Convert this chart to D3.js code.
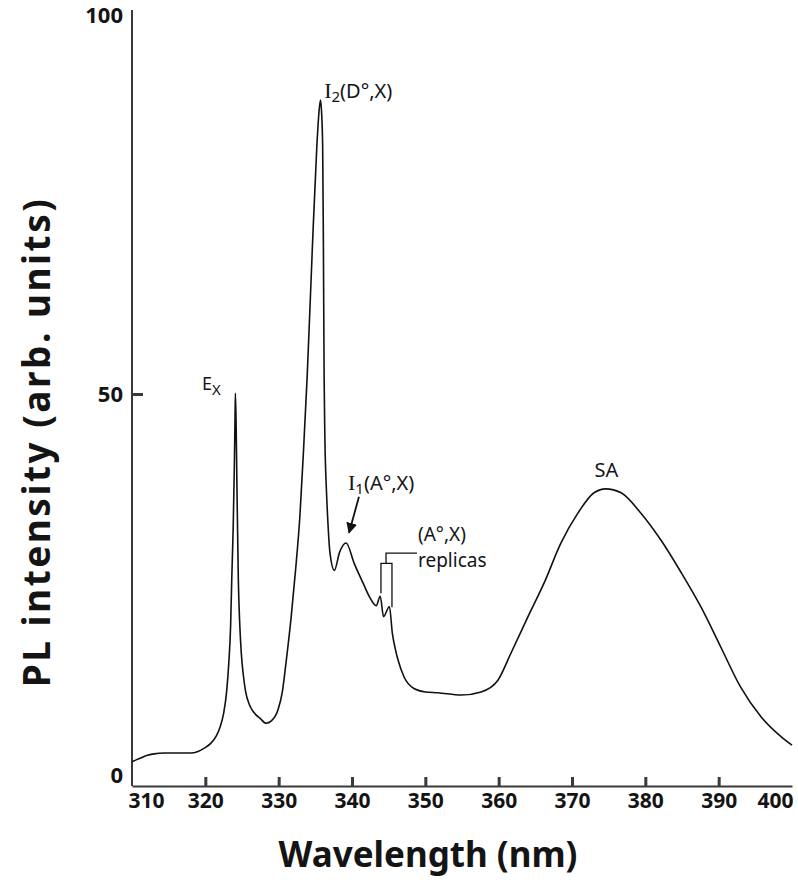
<!DOCTYPE html>
<html>
<head>
<meta charset="utf-8">
<script src="https://cdn.jsdelivr.net/npm/d3@7"></script>
<style>
  html, body { margin: 0; padding: 0; background: #fff; }
  svg { display: block; }
  text { font-family: "Noto Sans", "Open Sans", sans-serif; fill: #141414; }
</style>
</head>
<body>
<svg id="chart" width="798" height="891"></svg>
<script>
// ---- Data ----
const wavelength = [
  310.0, 311.0, 312.0, 313.0, 314.4, 316.0, 318.0, 319.0, 319.8, 320.7,
  321.5, 322.0, 322.5, 322.9, 323.2, 323.45, 323.6, 323.8, 323.95, 324.05,
  324.1, 324.2, 324.3, 324.5, 324.7, 324.9, 325.2, 325.5, 326.0, 326.6,
  327.5, 328.3, 329.0, 329.9, 330.5, 331.0, 331.7, 332.3, 332.9, 333.4,
  333.9, 334.6, 335.2, 335.5, 335.7, 335.85, 336.0, 336.1, 336.2, 336.3,
  336.5, 336.7, 337.0, 337.6, 338.3, 339.2, 340.3, 341.5, 342.4, 343.3,
  343.85, 344.3, 345.1, 345.5, 345.9, 346.3, 347.1, 348.5, 350.0, 351.7,
  354.9, 357.6, 359.9, 361.7, 364.0, 366.2, 368.5, 370.8, 373.0, 374.6,
  376.7, 379.4, 382.1, 384.9, 387.6, 390.3, 393.0, 395.8, 398.5, 400.0
];
const intensity = [
  3.1, 3.5, 3.9, 4.1, 4.2, 4.2, 4.2, 4.4, 4.8, 5.4,
  6.4, 7.5, 9.3, 12.0, 15.7, 20.5, 26.3, 33.0, 40.5, 47.0,
  50.1, 46.0, 39.0, 26.3, 20.5, 17.0, 14.0, 12.0, 10.4, 9.4,
  8.6, 8.0, 8.3, 9.7, 12.0, 15.7, 21.5, 27.5, 34.5, 43.0,
  52.5, 68.8, 81.5, 86.0, 87.5, 86.0, 81.5, 68.8, 52.0, 44.5,
  38.0, 33.9, 29.7, 27.5, 29.8, 31.0, 28.4, 25.9, 24.1, 23.0,
  24.2, 21.6, 22.9, 19.5, 17.5, 16.0, 13.9, 12.4, 12.0, 11.9,
  11.6, 12.0, 13.5, 17.0, 21.6, 25.9, 31.0, 34.8, 37.4, 37.9,
  37.4, 34.8, 31.4, 27.2, 22.8, 17.7, 12.6, 8.8, 6.3, 5.2
];
const xTicks = [310, 320, 330, 340, 350, 360, 370, 380, 390, 400];
const yTicks = [0, 50, 100];

// ---- Scales ----
const svg = d3.select("#chart");
const x = d3.scaleLinear().domain([310, 400]).range([132, 792]);
const y = d3.scaleLinear().domain([0, 100]).range([786, 2]);

const points = wavelength.map((w, i) => [w, intensity[i]]);

// ---- Axes ----
const axisColor = "#3a3a3a";

const xAxis = svg.append("g")
  .attr("transform", `translate(0,${y(0)})`)
  .call(d3.axisBottom(x).tickValues(xTicks).tickSizeInner(-9).tickSizeOuter(0).tickPadding(7));
xAxis.select(".domain").attr("stroke", axisColor).attr("stroke-width", 2);
xAxis.selectAll(".tick line").attr("stroke", axisColor).attr("stroke-width", 3)
  .attr("display", d => (d === 310 || d === 400) ? "none" : null);
xAxis.selectAll(".tick text")
  .attr("font-size", 21).attr("font-weight", "bold").attr("fill", "#141414")
  .attr("font-family", "'Noto Sans', sans-serif")
  .attr("dx", d => d === 310 ? 14 : (d === 400 ? -17 : 0));

const yAxis = svg.append("g")
  .attr("transform", `translate(${x(310)},0)`)
  .call(d3.axisLeft(y).tickValues(yTicks).tickSizeInner(-11).tickSizeOuter(0).tickPadding(9));
yAxis.select(".domain").attr("d", `M0,${y(0)}V10`).attr("stroke", axisColor).attr("stroke-width", 2);
yAxis.selectAll(".tick line").attr("stroke", axisColor).attr("stroke-width", 3)
  .attr("display", d => d === 50 ? null : "none");
yAxis.selectAll(".tick text")
  .attr("font-size", 22).attr("font-weight", "bold").attr("fill", "#141414")
  .attr("font-family", "'Noto Sans', sans-serif")
  .attr("dy", d => d === 0 ? "-0.15em" : (d === 100 ? "0.95em" : "0.32em"));

// ---- Curve ----
const line = d3.line()
  .x(d => x(d[0]))
  .y(d => y(d[1]))
  .curve(d3.curveMonotoneX);

svg.append("path")
  .datum(points)
  .attr("d", line)
  .attr("fill", "none")
  .attr("stroke", "#111")
  .attr("stroke-width", 1.6)
  .attr("stroke-linejoin", "round");

// ---- Axis titles ----
svg.append("text")
  .attr("x", 428).attr("y", 867)
  .attr("text-anchor", "middle")
  .attr("font-size", 35).attr("font-weight", "bold")
  .text("Wavelength (nm)");

svg.append("text")
  .attr("transform", `translate(50,442) rotate(-90)`)
  .attr("text-anchor", "middle")
  .attr("font-size", 37).attr("font-weight", "bold")
  .attr("letter-spacing", 2.5)
  .text("PL intensity (arb. units)");

// ---- Annotations ----
const ann = svg.append("g").attr("font-size", 20);

// E_X
const ex = ann.append("text").attr("x", x(319.55)).attr("y", y(50.5)).attr("font-size", 18);
ex.append("tspan").text("E");
ex.append("tspan").attr("font-size", 15).attr("dy", 5).text("X");

// I2(D°,X)
const i2 = ann.append("text").attr("x", x(336.2)).attr("y", y(87.8));
i2.append("tspan").attr("font-family", "'Liberation Serif', serif").attr("font-size", 22).text("I");
i2.append("tspan").attr("font-size", 15).attr("dy", 4).text("2");
i2.append("tspan").attr("dy", -4).text("(D°,X)");

// I1(A°,X)
const i1 = ann.append("text").attr("x", x(339.45)).attr("y", y(37.8));
i1.append("tspan").attr("font-family", "'Liberation Serif', serif").attr("font-size", 22).text("I");
i1.append("tspan").attr("font-size", 15).attr("dy", 4).text("1");
i1.append("tspan").attr("dy", -4).text("(A°,X)");

// arrow
svg.append("defs").append("marker")
  .attr("id", "arrowhead")
  .attr("viewBox", "0 0 10 10")
  .attr("refX", 9).attr("refY", 5)
  .attr("markerWidth", 11).attr("markerHeight", 11)
  .attr("markerUnits", "userSpaceOnUse")
  .attr("orient", "auto")
  .append("path").attr("d", "M0,0L10,5L0,10Z").attr("fill", "#111");

svg.append("line")
  .attr("x1", x(340.95)).attr("y1", y(36.9))
  .attr("x2", x(339.6)).attr("y2", y(32.3))
  .attr("stroke", "#111").attr("stroke-width", 1.8)
  .attr("marker-end", "url(#arrowhead)");

// (A°,X) replicas
ann.append("text").attr("x", x(349.0)).attr("y", y(31.3)).attr("font-size", 19).text("(A°,X)");
ann.append("text").attr("x", x(349.0)).attr("y", y(27.9)).attr("font-size", 19).text("replicas");

// bracket
const br = svg.append("g").attr("fill", "none").attr("stroke", "#111").attr("stroke-width", 1.3);
br.append("path").attr("d",
  `M${x(348.86)},${y(29.7)}H${x(344.64)}V${y(28.4)}`);
br.append("path").attr("d",
  `M${x(343.95)},${y(24.6)}V${y(28.4)}H${x(345.45)}V${y(22.8)}`);

// SA
ann.append("text").attr("x", x(374.7)).attr("y", y(39.4)).attr("text-anchor", "middle").text("SA");
</script>
</body>
</html>
